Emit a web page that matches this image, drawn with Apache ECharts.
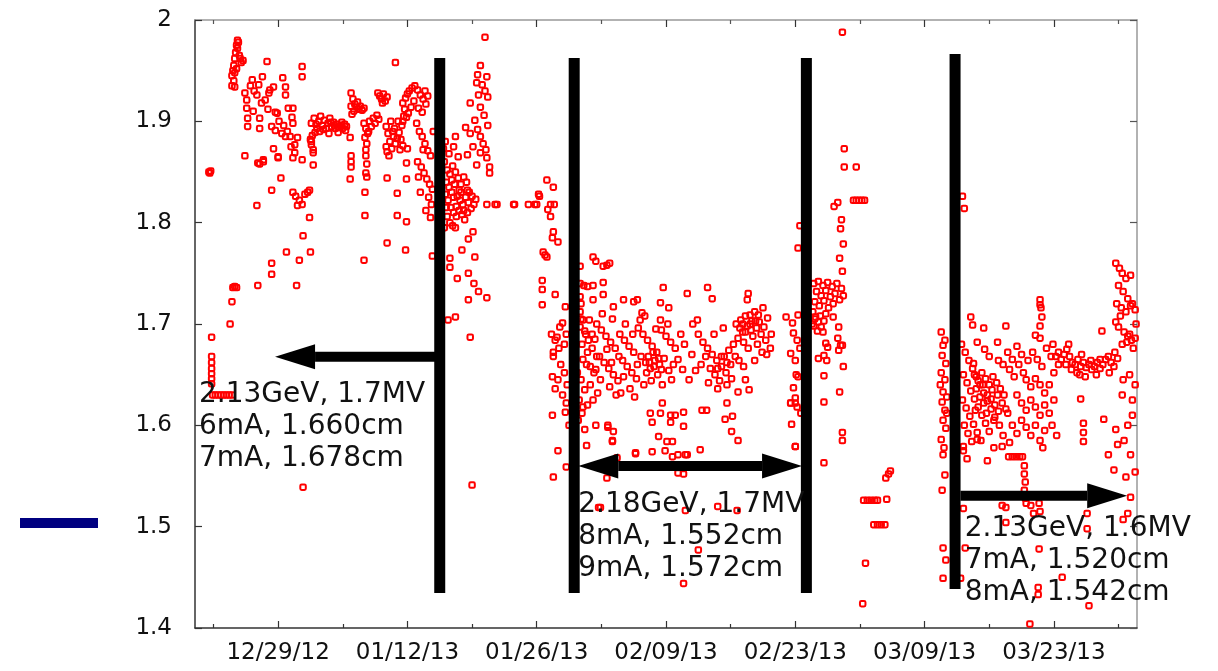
<!DOCTYPE html>
<html>
<head>
<meta charset="utf-8">
<script src="https://cdn.jsdelivr.net/npm/echarts@6/dist/echarts.min.js"></script>
<style>
html,body{margin:0;padding:0;background:#fff;}
#chart{width:1218px;height:671px;}
</style>
</head>
<body>
<div id="chart"></div>
<script>
// x = days since 2012-12-20, y = measured value
const majorTickDays = [9, 23, 37, 51, 65, 79, 93];
const majorTickLabels = ['12/29/12', '01/12/13', '01/26/13', '02/09/13', '02/23/13', '03/09/13', '03/23/13'];
const minorTickDays = [2, 16, 30, 44, 58, 72, 86, 100];

// Dec 20 - Jan 15
const segDecJan = [
[1.5,1.850],[1.6,1.849],[1.7,1.851],
[1.8,1.687],[1.8,1.668],[1.8,1.662],[1.8,1.656],[1.8,1.651],[1.8,1.646],[1.8,1.641],
[1.9,1.630],[2.2,1.630],[2.5,1.630],[2.8,1.630],[3.1,1.630],[3.4,1.630],[3.7,1.630],[4.0,1.630],
[3.8,1.700],[4.0,1.722],[4.1,1.736],[4.3,1.737],[4.5,1.736],
[4.0,1.945],[4.1,1.950],[4.2,1.955],[4.3,1.962],[4.4,1.968],[4.5,1.975],[4.6,1.980],[4.6,1.972],[4.7,1.978],[4.8,1.965],[4.9,1.962],[5.0,1.958],[5.2,1.960],[4.5,1.952],[4.3,1.948],[4.2,1.940],[4.0,1.935],
[5.4,1.866],[4.3,1.934],[5.4,1.928],[6.2,1.941],[6.0,1.935],[7.3,1.944],[7.8,1.959],[6.7,1.926],[5.6,1.921],[5.6,1.913],[5.7,1.903],[5.7,1.895],[7.0,1.903],[7.0,1.893],[7.6,1.921],[8.1,1.931],[8.5,1.934],[8.0,1.928],[8.7,1.909],[8.9,1.908],[9.5,1.943],[9.8,1.934],[9.8,1.926],[10.1,1.913],[10.6,1.913],[10.5,1.904],[10.6,1.898],[8.3,1.895],[8.7,1.891],[9.4,1.888],[9.8,1.885],[10.3,1.885],[11.1,1.884],[10.8,1.877],[10.8,1.869],[10.6,1.864],[11.6,1.954],[11.6,1.944],[8.5,1.873],[9.0,1.864],[7.4,1.862],[6.8,1.859],[11.6,1.862],
[6.4,1.930],[6.9,1.936],[7.2,1.918],[7.9,1.912],[9.1,1.900],[9.6,1.896],[10.0,1.890],[6.3,1.910],
[12.6,1.898],[12.9,1.903],[13.2,1.893],[13.4,1.900],[13.6,1.905],[13.8,1.896],[14.0,1.901],[14.2,1.893],[14.4,1.898],[14.6,1.903],[14.8,1.895],[15.0,1.899],[15.2,1.893],[15.4,1.897],[15.6,1.894],[15.8,1.896],[16.0,1.893],[16.2,1.897],[16.4,1.895],[13.0,1.889],[13.5,1.890],[12.7,1.886],[12.6,1.880],[12.8,1.872],[12.8,1.857],[14.5,1.888],[15.5,1.889],[12.5,1.882],[12.6,1.877],[12.8,1.869],
[13.1,1.897],[13.9,1.892],[14.7,1.899],[15.1,1.896],[15.9,1.899],[16.3,1.891],
[16.9,1.928],[17.1,1.922],[17.3,1.917],[17.5,1.914],[17.7,1.912],[17.9,1.915],[18.1,1.911],[18.3,1.913],[17.2,1.910],[17.6,1.919],[16.9,1.915],[17.0,1.907],
[16.8,1.884],[16.9,1.860],[16.9,1.855],[16.8,1.843],[16.9,1.866],
[18.3,1.898],[18.5,1.893],[18.7,1.888],[18.9,1.900],[19.1,1.895],[19.3,1.903],[19.5,1.898],[19.7,1.906],[19.9,1.902],[18.4,1.884],[18.6,1.878],[18.8,1.890],
[18.5,1.872],[18.5,1.866],[18.6,1.858],[18.5,1.849],[18.4,1.830],[18.4,1.807],[18.3,1.763],[18.6,1.845],
[19.8,1.928],[20.0,1.925],[20.2,1.922],[20.4,1.927],[20.6,1.920],[20.8,1.924],[20.3,1.918],
[21.7,1.958],
[20.7,1.895],[20.9,1.888],[21.1,1.880],[21.3,1.873],[21.5,1.885],[21.7,1.878],[21.9,1.883],[22.1,1.889],[22.3,1.882],[22.5,1.876],[20.8,1.870],[21.0,1.866],[21.2,1.900],[21.6,1.893],[22.0,1.900],[22.4,1.896],[22.6,1.905],[21.4,1.890],[22.2,1.872],[20.7,1.875],
[22.5,1.918],[22.8,1.923],[23.0,1.927],[23.2,1.930],[23.5,1.933],[23.8,1.935],[24.1,1.931],[24.4,1.926],[24.7,1.922],[25.0,1.917],[22.7,1.912],[23.1,1.908],[23.4,1.914],[23.7,1.920],[24.2,1.913],[24.6,1.909],[22.9,1.904],[24.9,1.930],[25.2,1.925],
[24.0,1.898],[24.3,1.890],[24.6,1.885],[24.9,1.878],[25.2,1.871],[25.5,1.866],[24.1,1.860],[24.5,1.855],[24.8,1.849],[25.1,1.843],[25.4,1.838],[25.7,1.833],[24.2,1.845],[24.7,1.872],[25.3,1.825],[25.6,1.818],[25.0,1.812],[24.4,1.830],[25.5,1.805],[25.8,1.890],
[6.7,1.817],[8.3,1.832],[6.8,1.738],[8.3,1.749],[8.3,1.760],[9.9,1.771],[11.0,1.738],[11.3,1.763],[11.7,1.787],[12.4,1.805],[12.5,1.771],[10.6,1.830],[10.9,1.826],[11.3,1.822],[11.6,1.818],[11.9,1.828],[12.2,1.830],[12.4,1.832],[11.1,1.817],[9.3,1.844],[7.0,1.858],[7.4,1.860],[9.0,1.865],[10.4,1.875],[11.7,1.539],
[20.8,1.844],[20.8,1.780],[21.9,1.829],[21.9,1.807],[22.8,1.773],[22.9,1.801],[22.9,1.859],[22.9,1.843],[23.0,1.873],[25.7,1.767],[22.5,1.900]
];

// Jan 15 - Jan 30
const segJan = [
[27.0,1.860],[27.3,1.852],[27.6,1.848],[27.9,1.856],[28.2,1.850],[28.5,1.844],[28.8,1.838],[29.1,1.845],[29.4,1.840],[27.2,1.840],[27.5,1.835],[27.8,1.830],[28.1,1.838],[28.4,1.826],[28.7,1.822],[29.0,1.818],[29.3,1.825],[29.6,1.820],[29.9,1.814],[30.2,1.818],[27.1,1.828],[27.4,1.822],[27.7,1.815],[28.0,1.810],[28.3,1.806],[28.6,1.812],[28.9,1.808],[29.2,1.803],[27.3,1.806],[27.6,1.800],[27.9,1.797],[27.2,1.815],[28.0,1.825],[28.8,1.830],[29.7,1.830],[30.0,1.826],[30.4,1.823],[29.5,1.810],[27.0,1.795],[28.2,1.795],[27.5,1.868],[28.5,1.865],[28.0,1.875],[27.1,1.880],[26.9,1.873],
[27.8,1.842],[28.6,1.832],[29.5,1.832],[28.3,1.816],[29.1,1.812],
[31.4,1.983],[30.9,1.955],[31.6,1.944],[30.5,1.938],[30.7,1.926],[31.4,1.930],[31.7,1.924],[29.8,1.918],[30.9,1.914],[30.3,1.901],[31.7,1.896],[29.8,1.888],[30.9,1.885],[31.2,1.878],[30.1,1.875],[30.9,1.869],[29.5,1.867],[31.6,1.864],[30.5,1.857],[31.9,1.855],[31.9,1.849],[29.3,1.894],[28.2,1.885],[30.6,1.946],[31.1,1.936],[31.3,1.906],[30.6,1.892],[31.5,1.872],
[31.6,1.818],[32.5,1.818],[32.7,1.818],[34.5,1.818],[34.6,1.818],[36.1,1.818],[36.8,1.818],[37.0,1.818],[38.5,1.818],[38.9,1.818],
[38.1,1.842],[38.8,1.835],[37.2,1.828],[37.3,1.826],[38.2,1.813],[38.5,1.806],[38.8,1.791],[38.7,1.785],[39.3,1.781],[37.7,1.771],[38.1,1.766],[37.9,1.768],[37.6,1.743],[37.6,1.734],[39.0,1.729],[37.6,1.719],[40.1,1.717],[39.8,1.701],
[30.1,1.791],[29.6,1.784],[28.9,1.773],[30.3,1.766],[27.6,1.765],[27.6,1.756],[28.4,1.745],[29.6,1.750],[30.2,1.740],[30.7,1.732],[29.6,1.724],[31.6,1.726],[28.2,1.707],[27.4,1.704],[29.8,1.687],[30.0,1.541],
[38.6,1.690],[39.0,1.684],[39.4,1.676],[38.8,1.668],[39.6,1.660],[40.0,1.652],[39.3,1.645],[40.3,1.640],[39.8,1.630],[40.2,1.622],[38.7,1.610],[39.3,1.575],[38.8,1.549],[39.0,1.636],[38.7,1.648],[38.8,1.672],[39.2,1.687],[40.2,1.559],[40.5,1.600],[39.5,1.697],[40.0,1.680],[40.2,1.690],[40.1,1.613]
];

// Jan 30 - Feb 24
const segFeb = [
[41.7,1.757],[41.7,1.740],[42.1,1.738],[42.5,1.737],[41.7,1.727],[41.8,1.720],[41.7,1.712],[41.8,1.705],[41.7,1.697],[42.0,1.704],[42.7,1.704],[42.3,1.690],[41.9,1.680],[42.5,1.672],[42.0,1.665],[42.8,1.658],[41.4,1.652],[41.8,1.645],[42.2,1.635],[41.6,1.625],[42.0,1.618],[41.5,1.605],[42.2,1.596],
[42.2,1.693],[42.6,1.684],[43.0,1.676],[43.5,1.668],[42.4,1.660],[43.2,1.652],[42.8,1.640],[43.6,1.632],[42.5,1.620],[41.9,1.612],[43.4,1.600],[42.4,1.580],
[43.1,1.766],[43.4,1.762],[44.6,1.758],[44.9,1.760],[44.2,1.757],[44.2,1.741],[43.1,1.738],[44.2,1.729],[43.1,1.724],
[45.3,1.717],[46.4,1.724],[47.5,1.722],[47.9,1.724],[48.4,1.711],[48.7,1.708],[50.7,1.736],[53.3,1.730],[55.5,1.736],[56.0,1.725],[59.9,1.730],[59.8,1.724],[61.5,1.716],[60.1,1.709],[61.0,1.709],[50.4,1.721],[51.3,1.716],[50.4,1.704],
[43.5,1.700],[44.0,1.694],[44.5,1.688],[45.0,1.682],[45.5,1.676],[46.0,1.690],[46.5,1.684],[47.0,1.678],[47.5,1.672],[48.0,1.696],[48.5,1.690],[49.0,1.684],[49.5,1.678],[50.0,1.672],[50.5,1.694],[51.0,1.688],[51.5,1.682],[52.0,1.676],[43.8,1.668],[44.3,1.662],[44.8,1.656],[45.3,1.650],[45.8,1.644],[46.3,1.664],[46.8,1.658],[47.3,1.652],[47.8,1.646],[48.3,1.668],[48.8,1.662],[49.3,1.656],[49.8,1.664],[50.3,1.660],[50.8,1.666],[51.3,1.654],[51.8,1.660],[49.1,1.668],[49.6,1.672],[50.1,1.650],[48.6,1.640],[47.1,1.636],[46.1,1.632],[44.9,1.638],[43.9,1.645],[43.4,1.655],[45.6,1.630],[47.6,1.628],[49.4,1.644],[50.6,1.640],[51.6,1.645],[52.3,1.665],[52.6,1.690],[53.0,1.680],[46.6,1.700],[48.2,1.704],[45.2,1.705],[44.1,1.710],[49.9,1.695],[51.2,1.700],[47.4,1.690],[45.9,1.668],[44.6,1.675],[43.3,1.685],[43.0,1.690],[52.8,1.655],[53.5,1.645],[53.8,1.670],
[49.2,1.662],[49.7,1.658],[50.2,1.666],[48.9,1.652],[50.5,1.655],[47.9,1.660],[46.4,1.648],[45.1,1.662],
[43.1,1.625],[44.7,1.600],[45.3,1.594],[45.2,1.585],[47.7,1.573],[49.5,1.574],[49.3,1.612],[50.4,1.612],[49.5,1.603],[50.6,1.622],[51.5,1.610],[52.0,1.610],[52.9,1.613],[52.9,1.599],[51.5,1.603],[50.2,1.589],[51.1,1.584],[51.7,1.584],[50.9,1.575],[51.7,1.569],[53.1,1.571],[54.7,1.576],[54.9,1.615],[55.4,1.615],[57.4,1.606],[58.2,1.609],[57.6,1.622],[58.8,1.633],[58.1,1.594],[58.8,1.585],[65.0,1.622],[64.5,1.622],[65.0,1.579],
[44.7,1.598],[45.2,1.584],[44.6,1.548],[43.9,1.519],[52.3,1.553],[52.9,1.444],[54.5,1.477],[58.7,1.516],[56.6,1.520],[53.1,1.516],[52.3,1.571],[53.3,1.571],[45.7,1.568],[47.7,1.572],[52.9,1.552],[43.7,1.519],
[54.5,1.690],[55.0,1.682],[55.5,1.676],[56.0,1.670],[56.5,1.664],[57.0,1.658],[57.5,1.652],[58.0,1.660],[58.5,1.668],[54.8,1.660],[55.3,1.668],[55.8,1.656],[56.3,1.650],[56.8,1.644],[57.3,1.668],[57.8,1.674],[58.3,1.680],[58.8,1.686],[59.3,1.692],[59.8,1.698],[60.3,1.703],[60.8,1.696],[61.3,1.690],[61.8,1.684],[58.6,1.700],[59.1,1.704],[59.6,1.708],[60.1,1.700],[60.6,1.712],[61.1,1.702],[61.6,1.697],[62.0,1.706],[59.4,1.682],[59.9,1.676],[60.4,1.688],[60.9,1.680],[61.4,1.672],[58.9,1.664],[59.4,1.658],[57.6,1.640],[58.1,1.646],[56.6,1.636],[55.6,1.642],[54.2,1.654],[53.9,1.700],[54.4,1.704],[56.2,1.690],[57.2,1.696],[60.6,1.664],[61.9,1.670],[62.4,1.690],[62.3,1.676],[59.6,1.645],[60.0,1.635],
[59.0,1.696],[59.6,1.692],[60.2,1.694],[60.7,1.703],[59.3,1.700],[57.0,1.668],[57.6,1.662],[56.6,1.656],
[65.5,1.797],[65.3,1.775],[64.7,1.701],[64.8,1.691],[65.2,1.684],[64.5,1.671],[65.0,1.664],[65.3,1.648],[64.8,1.637],[65.0,1.627],[64.5,1.622],[65.2,1.618],[65.0,1.579],[64.0,1.707],[65.5,1.676],[65.1,1.650],[65.6,1.612],[64.6,1.601],[65.3,1.709]
];

// Feb 24 - Mar 12
const segMar = [
[70.3,1.873],[70.3,1.855],[71.6,1.855],[71.3,1.822],[71.6,1.822],[71.9,1.822],[72.2,1.822],[72.5,1.822],[69.6,1.820],[69.2,1.816],[70.0,1.803],[69.9,1.794],[70.2,1.779],[69.8,1.765],[70.1,1.752],[70.1,1.988],
[67.0,1.740],[67.5,1.742],[68.0,1.738],[68.5,1.741],[69.0,1.737],[69.5,1.740],[70.0,1.735],[67.3,1.732],[67.8,1.728],[68.3,1.733],[68.8,1.727],[69.3,1.730],[69.8,1.724],[70.2,1.728],[67.1,1.722],[67.6,1.718],[68.1,1.723],[68.6,1.716],[69.1,1.720],
[66.9,1.712],[67.2,1.707],[67.5,1.702],[67.8,1.697],[68.1,1.703],[67.0,1.698],[67.4,1.693],[67.7,1.708],[68.0,1.692],[67.1,1.705],[66.8,1.700],[68.3,1.710],
[69.1,1.707],[69.7,1.697],[69.6,1.686],[70.1,1.679],[69.7,1.674],[68.5,1.677],[67.5,1.666],[68.4,1.664],[70.2,1.658],[68.1,1.649],[69.8,1.633],[68.1,1.623],[70.1,1.593],[70.1,1.585],[68.1,1.563],[68.3,1.681],[68.1,1.669],[69.9,1.679],
[72.4,1.526],[72.8,1.526],[73.2,1.526],[73.6,1.526],[73.9,1.526],[73.5,1.502],[73.9,1.502],[74.3,1.502],[74.7,1.502],[75.1,1.552],[74.8,1.548],[74.9,1.527],[72.6,1.464],[72.3,1.424],[75.3,1.555],
[80.8,1.692],[81.2,1.684],[81.0,1.679],[80.9,1.669],[81.3,1.661],[80.8,1.652],[81.2,1.645],[81.0,1.633],[81.4,1.628],[80.9,1.623],[81.2,1.615],[81.0,1.605],[81.3,1.597],[80.8,1.586],[81.1,1.578],[81.0,1.571],[81.2,1.551],[80.9,1.536],[81.0,1.479],[81.3,1.467],[81.0,1.449],[80.7,1.640],[81.4,1.612]
];

// Mar 12 - Apr 1
const segApr = [
[83.1,1.826],[83.3,1.814],
[83.0,1.680],[83.4,1.672],[83.8,1.664],[84.2,1.656],[84.6,1.648],[85.0,1.640],[85.4,1.632],[85.8,1.624],[86.2,1.616],[86.6,1.608],[83.2,1.650],[83.6,1.642],[84.0,1.634],[84.4,1.626],[84.8,1.618],[85.2,1.610],[85.6,1.602],[86.0,1.594],[83.1,1.625],[83.5,1.617],[83.9,1.609],[84.3,1.601],[84.7,1.593],[85.1,1.585],[83.3,1.600],[83.7,1.592],[84.1,1.584],[83.2,1.575],[83.6,1.567],
[84.4,1.650],[84.8,1.644],[85.2,1.652],[85.6,1.646],[86.0,1.640],[86.4,1.648],[86.8,1.642],[87.2,1.636],[87.6,1.630],[84.6,1.636],[85.0,1.628],[85.4,1.622],[85.8,1.630],[86.2,1.626],[86.6,1.620],[87.0,1.614],[87.4,1.622],[87.8,1.616],[84.5,1.615],[85.3,1.640],[86.3,1.635],[86.9,1.630],[85.7,1.612],[86.5,1.605],[87.1,1.600],
[84.0,1.707],[84.2,1.699],[85.4,1.696],[87.8,1.698],[84.7,1.682],[86.9,1.682],[85.5,1.675],[86.0,1.668],[87.0,1.664],[87.5,1.660],[88.0,1.672],[88.5,1.665],[89.0,1.678],[89.5,1.670],[88.2,1.655],[88.7,1.648],[89.2,1.660],[89.7,1.652],[90.2,1.664],[90.7,1.672],[91.2,1.665],[91.7,1.658],[92.2,1.676],[92.7,1.668],[90.0,1.645],[90.5,1.638],[91.0,1.646],[91.5,1.640],[92.0,1.632],[92.5,1.640],[93.0,1.652],[93.5,1.660],[89.0,1.630],[89.5,1.622],[90.0,1.615],[90.5,1.625],[91.0,1.618],[91.5,1.610],[92.0,1.620],[92.5,1.612],[93.0,1.625],[88.5,1.600],[89.0,1.592],[89.5,1.605],[90.0,1.598],[90.5,1.590],[91.0,1.600],[91.5,1.585],[92.0,1.595],[88.0,1.612],[87.5,1.590],[88.2,1.583],[91.8,1.578],[92.8,1.600],[93.3,1.590],
[91.5,1.724],[91.5,1.719],[91.7,1.707],[91.5,1.698],[91.0,1.689],[91.5,1.686],[91.6,1.716],[84.3,1.661],[87.4,1.579],[86.5,1.578],[83.2,1.579],[84.7,1.586],
[88.1,1.569],[88.5,1.569],[88.9,1.569],[89.3,1.569],[89.6,1.569],[89.8,1.560],[89.8,1.552],[89.9,1.544],[89.8,1.536],[89.9,1.528],[90.0,1.523],[85.8,1.565],
[83.2,1.518],[87.8,1.519],[90.5,1.521],[91.4,1.523],[87.8,1.504],[90.8,1.513],[91.5,1.515],[91.4,1.478],[93.9,1.450],[91.3,1.440],[91.3,1.433],[96.8,1.422],[90.4,1.404],[96.6,1.513],[96.6,1.498],[100.5,1.507],[101.0,1.513],[99.5,1.556],[100.8,1.549],[101.8,1.554],[101.3,1.571],[99.7,1.596],[99.9,1.581],[98.9,1.571],[98.4,1.606],[96.2,1.602],[96.2,1.593],[96.2,1.584],[95.9,1.626],[100.4,1.630],[101.5,1.625],[87.4,1.521],[83.4,1.479],[82.9,1.449],[101.3,1.529],
[93.8,1.665],[94.1,1.670],[94.4,1.675],[94.7,1.668],[95.0,1.662],[95.3,1.660],[95.6,1.665],[95.9,1.658],[96.2,1.662],[96.5,1.657],[96.8,1.660],[97.1,1.655],[97.4,1.658],[97.7,1.662],[98.0,1.656],[98.3,1.660],[98.6,1.665],[98.9,1.668],[99.2,1.662],[99.5,1.658],[94.3,1.660],[94.9,1.655],[95.5,1.652],[96.0,1.670],[97.0,1.664],[98.0,1.665],[99.0,1.652],[94.6,1.680],[93.5,1.672],[95.8,1.650],[99.6,1.672],[99.9,1.666],[97.6,1.650],[96.4,1.648],[93.2,1.668],[92.9,1.680],
[99.7,1.760],[100.1,1.755],[100.4,1.750],[100.8,1.745],[101.3,1.748],[100.0,1.738],[100.5,1.732],[101.0,1.725],[101.5,1.720],[99.8,1.720],[100.3,1.716],[100.8,1.712],[101.3,1.718],[101.8,1.714],[100.2,1.708],[100.6,1.692],[101.0,1.688],[101.4,1.684],[101.8,1.686],[100.4,1.680],[100.9,1.682],[101.2,1.690],[100.0,1.697],[99.7,1.702],[101.6,1.676],[101.9,1.700],[101.0,1.600],[101.5,1.610],[100.5,1.645],[101.2,1.650],[101.8,1.640],[100.6,1.585],[98.2,1.693]
];

// annotations (data coordinates)
const barDays = [26.5, 41.06, 66.2, 82.3];
const barTops = [1.9625, 1.9625, 1.9625, 1.9665];
const barBottoms = [1.4345, 1.4345, 1.4345, 1.4385];
// [from day, to day, value, head at start, head at end]
const arrows = [
  [26.5, 8.67, 1.6677, 0, 1],
  [41.5, 65.73, 1.5598, 1, 1],
  [82.88, 100.94, 1.5306, 0, 1]
];
const noteDays = [0.43, 41.5, 83.35];
const noteValues = [1.6457, 1.5372, 1.5137];
const noteTexts = [
  '2.13GeV, 1.7MV\n6mA, 1.660cm\n7mA, 1.678cm',
  '2.18GeV, 1.7MV\n8mA, 1.552cm\n9mA, 1.572cm',
  '2.13GeV, 1.6MV\n7mA, 1.520cm\n8mA, 1.542cm'
];

const allPoints = [].concat(segDecJan, segJan, segFeb, segMar, segApr);
const FONT = 'DejaVu Sans';

const chart = echarts.init(document.getElementById('chart'), null, {renderer: 'canvas'});
chart.setOption({
  animation: false,
  backgroundColor: '#ffffff',
  grid: {left: 195, top: 20, right: 81, bottom: 43, containLabel: false},
  xAxis: [
    {
      type: 'value', min: 0, max: 102, position: 'bottom',
      axisLine: {show: true, onZero: false, lineStyle: {color: '#333', width: 1.5}},
      axisTick: {show: true, inside: true, length: 7, customValues: majorTickDays, lineStyle: {color: '#333', width: 1.2}},
      axisLabel: {show: true, customValues: majorTickDays, margin: 14,
        fontFamily: FONT, fontSize: 23, color: '#111',
        formatter: function (v) { const i = majorTickDays.indexOf(Math.round(v)); return i >= 0 ? majorTickLabels[i] : ''; }},
      splitLine: {show: false}
    },
    {
      type: 'value', min: 0, max: 102, position: 'bottom',
      axisLine: {show: false, onZero: false},
      axisTick: {show: true, inside: true, length: 4, customValues: minorTickDays, lineStyle: {color: '#333', width: 1.2}},
      axisLabel: {show: false},
      splitLine: {show: false}
    },
    {
      type: 'value', min: 0, max: 102, position: 'top',
      axisLine: {show: true, onZero: false, lineStyle: {color: '#999', width: 1.5}},
      axisTick: {show: true, inside: true, length: 7, customValues: majorTickDays, lineStyle: {color: '#333', width: 1.2}},
      axisLabel: {show: false},
      splitLine: {show: false}
    },
    {
      type: 'value', min: 0, max: 102, position: 'top',
      axisLine: {show: false, onZero: false},
      axisTick: {show: true, inside: true, length: 4, customValues: minorTickDays, lineStyle: {color: '#555', width: 1.2}},
      axisLabel: {show: false},
      splitLine: {show: false}
    }
  ],
  yAxis: [
    {
      type: 'value', min: 1.4, max: 2, interval: 0.1, position: 'left',
      axisLine: {show: true, onZero: false, lineStyle: {color: '#333', width: 1.5}},
      axisTick: {show: true, inside: true, length: 7, lineStyle: {color: '#333', width: 1.2}},
      axisLabel: {show: true, margin: 23, fontFamily: FONT, fontSize: 23, color: '#111',
        formatter: function (v) { return String(Math.round(v * 10) / 10); }},
      splitLine: {show: false}
    },
    {
      type: 'value', min: 1.4, max: 2, interval: 0.1, position: 'right',
      axisLine: {show: true, onZero: false, lineStyle: {color: '#999', width: 1.5}},
      axisTick: {show: true, inside: true, length: 7, lineStyle: {color: '#555', width: 1.2}},
      axisLabel: {show: false},
      splitLine: {show: false}
    }
  ],
  graphic: [
    {type: 'rect', left: 20, top: 518, shape: {width: 78, height: 10}, style: {fill: '#000080'}}
  ],
  series: [
    {
      type: 'scatter', name: 'data', xAxisIndex: 0, yAxisIndex: 0,
      data: allPoints, symbol: 'roundRect', symbolSize: 5.5,
      itemStyle: {color: 'rgba(255,0,0,0)', borderColor: '#ff0000', borderWidth: 2, opacity: 1},
      z: 2, silent: true
    },
    {
      type: 'custom', name: 'bars', xAxisIndex: 0, yAxisIndex: 0, z: 5, silent: true,
      data: barDays.map((d, i) => [d, barTops[i], barBottoms[i]]),
      renderItem: function (params, api) {
        const top = api.coord([api.value(0), api.value(1)]);
        const bot = api.coord([api.value(0), api.value(2)]);
        return {type: 'rect', shape: {x: top[0] - 5.5, y: top[1], width: 11, height: bot[1] - top[1]}, style: {fill: '#000'}};
      }
    },
    {
      type: 'custom', name: 'arrows', xAxisIndex: 0, yAxisIndex: 0, z: 5, silent: true,
      data: arrows,
      renderItem: function (params, api) {
        const a = api.coord([api.value(0), api.value(2)]);
        const b = api.coord([api.value(1), api.value(2)]);
        const dir = b[0] > a[0] ? 1 : -1;
        const HL = 40, HH = 12.5, T = 5;
        const headA = api.value(3), headB = api.value(4);
        const x1 = headA ? a[0] + dir * HL : a[0];
        const x2 = headB ? b[0] - dir * HL : b[0];
        const y = a[1];
        const kids = [{type: 'rect', shape: {x: Math.min(x1, x2), y: y - T, width: Math.abs(x2 - x1), height: 2 * T}, style: {fill: '#000'}}];
        if (headB) kids.push({type: 'polygon', shape: {points: [[b[0], y], [b[0] - dir * HL, y - HH], [b[0] - dir * HL, y + HH]]}, style: {fill: '#000'}});
        if (headA) kids.push({type: 'polygon', shape: {points: [[a[0], y], [a[0] + dir * HL, y - HH], [a[0] + dir * HL, y + HH]]}, style: {fill: '#000'}});
        return {type: 'group', children: kids};
      }
    },
    {
      type: 'custom', name: 'notes', xAxisIndex: 0, yAxisIndex: 0, z: 6, silent: true,
      data: noteDays.map((d, i) => [d, noteValues[i]]),
      renderItem: function (params, api) {
        const p = api.coord([api.value(0), api.value(1)]);
        return {type: 'text', x: p[0], y: p[1], style: {text: noteTexts[params.dataIndex], fontFamily: FONT, fontSize: 28, lineHeight: 32, fill: '#111', align: 'left', verticalAlign: 'top'}};
      }
    }
  ]
});
</script>
</body>
</html>
